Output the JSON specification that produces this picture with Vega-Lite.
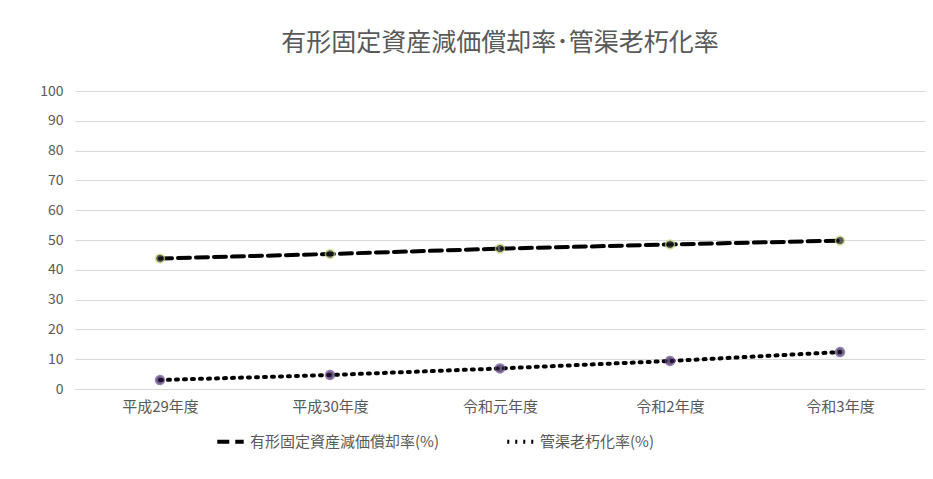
{
  "$schema": "https://vega.github.io/schema/vega-lite/v6.json",
  "autosize": "none",
  "width": 850,
  "height": 298,
  "padding": {"left": 75, "top": 91, "right": 8, "bottom": 90},
  "background": "white",
  "config": {"font": "Noto Sans CJK JP", "view": {"stroke": null}},
  "title": {"text": "有形固定資産減価償却率･管渠老朽化率", "fontSize": 25, "fontWeight": "normal", "color": "#595959", "anchor": "middle", "offset": 28},
  "data": {"values": [
    {"年度": "平成29年度", "系列": "有形固定資産減価償却率(%)", "値": 43.8},
    {"年度": "平成30年度", "系列": "有形固定資産減価償却率(%)", "値": 45.3},
    {"年度": "令和元年度", "系列": "有形固定資産減価償却率(%)", "値": 47.1},
    {"年度": "令和2年度", "系列": "有形固定資産減価償却率(%)", "値": 48.5},
    {"年度": "令和3年度", "系列": "有形固定資産減価償却率(%)", "値": 49.8},
    {"年度": "平成29年度", "系列": "管渠老朽化率(%)", "値": 3.0},
    {"年度": "平成30年度", "系列": "管渠老朽化率(%)", "値": 4.7},
    {"年度": "令和元年度", "系列": "管渠老朽化率(%)", "値": 6.9},
    {"年度": "令和2年度", "系列": "管渠老朽化率(%)", "値": 9.4},
    {"年度": "令和3年度", "系列": "管渠老朽化率(%)", "値": 12.4}
  ]},
  "encoding": {
    "x": {"field": "年度", "type": "ordinal", "sort": null, "scale": {"type": "point", "padding": 0.5},
      "axis": {"title": null, "labelAngle": 0, "labelFontSize": 15, "labelColor": "#595959", "domainColor": "#d9d9d9", "ticks": false, "grid": false, "labelPadding": 10}},
    "y": {"field": "値", "type": "quantitative", "scale": {"domain": [0, 100]},
      "axis": {"title": null, "tickCount": 10, "labelFontSize": 14, "labelColor": "#595959", "domain": false, "ticks": false, "gridColor": "#d9d9d9", "labelPadding": 12}},
    "color": {"field": "系列", "type": "nominal", "sort": null,
      "scale": {"range": ["#000000", "#000000"]},
      "legend": {"title": null, "orient": "none", "legendX": 140, "legendY": 335, "direction": "horizontal", "labelFontSize": 15, "labelColor": "#595959", "labelLimit": 400, "symbolType": "stroke", "symbolSize": 700, "symbolStrokeWidth": 4, "columnPadding": 60}},
    "strokeDash": {"field": "系列", "type": "nominal", "sort": null, "scale": {"range": [[12, 6], [2, 6]]}, "legend": null}
  },
  "layer": [
    {"mark": {"type": "line", "strokeWidth": 4, "strokeCap": "round"}},
    {"mark": {"type": "point", "filled": true, "size": 80, "strokeWidth": 1.5},
      "encoding": {"fill": {"field": "系列", "type": "nominal", "sort": null, "scale": {"range": ["#1a1a1a", "#2a1840"]}, "legend": null},
        "stroke": {"field": "系列", "type": "nominal", "sort": null, "scale": {"range": ["#c8e07a", "#6a4d9a"]}, "legend": null},
        "strokeDash": {"value": [1, 0]}}}
  ]
}
